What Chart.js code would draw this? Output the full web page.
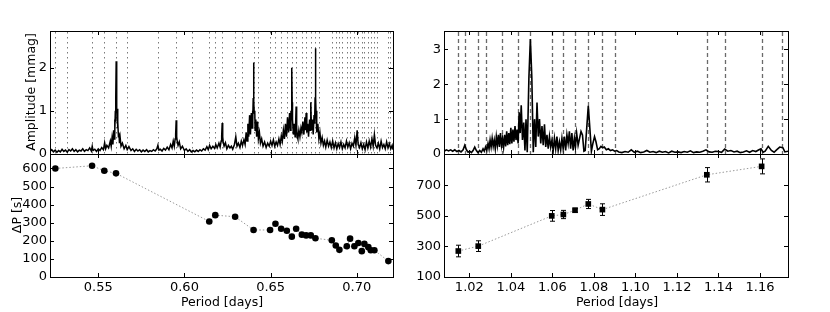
<!DOCTYPE html>
<html lang="en">
<head>
  <meta charset="UTF-8" />
  <title>Period spacings</title>
  <script src="https://cdn.jsdelivr.net/npm/chart.js"></script>
  <style>
    html, body { margin: 0; padding: 0; background: #fff; }
    #wrap { position: relative; width: 830px; height: 312px; overflow: hidden; font-family: "DejaVu Sans", sans-serif; }
    #wrap canvas { position: absolute; left: 0; top: 0; }
    .lbl { position: absolute; font-size: 12.5px; line-height: 1; white-space: nowrap; color: #000; transform: translate(-50%, -50%); }
    .rot { transform: translate(-50%, -50%) rotate(-90deg); }
  </style>
</head>
<body>
<div id="wrap">
  <canvas id="ampLeft" width="830" height="312"></canvas>
  <canvas id="dpLeft" width="830" height="312"></canvas>
  <canvas id="ampRight" width="830" height="312"></canvas>
  <canvas id="dpRight" width="830" height="312"></canvas>
  <div class="lbl rot" style="left:31px;top:92px">Amplitude [mmag]</div>
  <div class="lbl rot" style="left:17px;top:215px">ΔP [s]</div>
  <div class="lbl" style="left:222px;top:302px">Period [days]</div>
  <div class="lbl" style="left:617px;top:302px">Period [days]</div>
</div>
<script>
  // tick values
  const xTicksLeft = [0.55, 0.60, 0.65, 0.70];
  const xTicksRight = [1.02, 1.04, 1.06, 1.08, 1.10, 1.12, 1.14, 1.16];
  const yTicksAmpLeft = [0, 1, 2];
  const yTicksAmpRight = [0, 1, 2, 3];
  const yTicksDpLeft = [0, 100, 200, 300, 400, 500, 600];
  const yTicksDpRight = [100, 300, 500, 700];

  // mode periods (vertical lines)
  const modesLeft = [0.5251, 0.5319, 0.5464, 0.5535, 0.5603, 0.5667, 0.5846, 0.5952, 0.6045, 0.6144, 0.6179, 0.6219,
    0.6294, 0.6333, 0.6401, 0.6428, 0.6497, 0.6528, 0.6561, 0.6594, 0.6623, 0.6648, 0.6681, 0.6706, 0.6733, 0.6760,
    0.6783, 0.6855, 0.6878, 0.6899, 0.6916, 0.6942, 0.6961, 0.6986, 0.7009, 0.7029, 0.7044, 0.7067, 0.7081, 0.7102,
    0.7119, 0.7183, 0.7193];
  const modesRight = [1.0147, 1.0179, 1.0243, 1.0278, 1.0358, 1.0435, 1.0494, 1.0597, 1.0653, 1.0709, 1.0773, 1.0841,
    1.0904, 1.1344, 1.1433, 1.1608, 1.1704];

  // period spacings
  const dpLeftPeriod = [0.5251, 0.5464, 0.5535, 0.5603, 0.6144, 0.6179, 0.6294, 0.6401, 0.6497, 0.6528, 0.6561, 0.6594,
    0.6623, 0.6648, 0.6681, 0.6706, 0.6733, 0.6760, 0.6855, 0.6878, 0.6899, 0.6942, 0.6961, 0.6986, 0.7009, 0.7029,
    0.7044, 0.7067, 0.7081, 0.7102, 0.7183];
  const dpLeftValue = [600, 615, 587, 573, 307, 342, 333, 260, 260, 294, 267, 256, 223, 267, 234, 230, 230, 214, 203, 174,
    150, 170, 212, 170, 188, 143, 183, 165, 148, 148, 88];
  const dpLeftErr = [8, 8, 8, 8, 10, 10, 10, 8, 10, 10, 10, 10, 10, 10, 10, 10, 10, 10, 12, 14, 14, 16, 14, 14, 14, 14,
    14, 12, 12, 12, 12];

  const dpRightPeriod = [1.0147, 1.0243, 1.0597, 1.0653, 1.0709, 1.0773, 1.0841, 1.1344, 1.1608];
  const dpRightValue = [270, 302, 500, 509, 537, 578, 541, 769, 824];
  const dpRightErr = [38, 35, 35, 27, 13, 30, 38, 47, 49];

  // amplitude spectra [period, amplitude]
  const specLeft = [
    [0.5220,0.06],[0.5230,0.10],[0.5240,0.05],[0.5250,0.09],[0.5260,0.04],[0.5270,0.08],[0.5280,0.05],[0.5290,0.11],
    [0.5300,0.06],[0.5310,0.09],[0.5320,0.04],[0.5330,0.10],[0.5340,0.07],[0.5350,0.12],[0.5360,0.06],[0.5370,0.10],
    [0.5380,0.05],[0.5390,0.09],[0.5400,0.07],[0.5410,0.12],[0.5420,0.06],[0.5430,0.10],[0.5440,0.08],[0.5450,0.14],
    [0.5460,0.07],[0.5465,0.18],[0.5470,0.08],[0.5480,0.11],[0.5490,0.06],[0.5500,0.12],[0.5510,0.08],[0.5520,0.15],
    [0.5530,0.10],[0.5537,0.26],[0.5543,0.12],[0.5550,0.20],[0.5560,0.14],[0.5570,0.30],[0.5575,0.18],[0.5580,0.38],
    [0.5585,0.22],[0.5589,0.55],[0.5592,0.35],[0.5595,0.80],[0.5597,0.55],[0.5599,1.00],[0.5601,0.75],[0.5602,1.30],
    [0.5604,2.15],[0.5606,1.20],[0.5608,0.95],[0.5610,1.05],[0.5612,0.60],[0.5614,0.75],[0.5617,0.40],[0.5620,0.50],
    [0.5623,0.25],[0.5627,0.38],[0.5632,0.18],[0.5640,0.25],[0.5650,0.12],[0.5660,0.20],
    [0.5668,0.10],[0.5678,0.17],[0.5690,0.08],[0.5700,0.12],[0.5710,0.06],[0.5720,0.11],[0.5730,0.07],[0.5740,0.10],
    [0.5750,0.05],[0.5760,0.09],[0.5770,0.06],[0.5780,0.10],[0.5790,0.05],[0.5800,0.08],[0.5810,0.06],[0.5820,0.10],
    [0.5830,0.07],[0.5840,0.12],[0.5846,0.20],[0.5852,0.09],[0.5860,0.11],[0.5870,0.07],[0.5880,0.13],[0.5890,0.09],
    [0.5900,0.16],[0.5910,0.10],[0.5920,0.22],[0.5928,0.14],[0.5935,0.30],[0.5941,0.18],[0.5946,0.35],[0.5949,0.45],
    [0.5952,0.78],[0.5955,0.40],[0.5958,0.30],[0.5963,0.20],[0.5970,0.28],[0.5978,0.12],[0.5988,0.18],[0.6000,0.08],
    [0.6010,0.12],[0.6020,0.06],
    [0.6030,0.10],[0.6040,0.05],[0.6050,0.08],[0.6060,0.05],[0.6070,0.09],[0.6080,0.06],[0.6090,0.10],[0.6100,0.07],
    [0.6110,0.12],[0.6120,0.09],[0.6130,0.17],[0.6138,0.10],[0.6146,0.20],[0.6155,0.12],[0.6165,0.18],[0.6175,0.13],
    [0.6182,0.22],[0.6190,0.14],[0.6200,0.25],[0.6207,0.16],[0.6213,0.30],[0.6216,0.42],[0.6219,0.72],[0.6222,0.40],
    [0.6225,0.28],[0.6230,0.18],
    [0.6238,0.26],[0.6246,0.12],[0.6255,0.20],[0.6264,0.14],[0.6272,0.18],[0.6280,0.11],[0.6290,0.22],[0.6298,0.40],
    [0.6305,0.18],[0.6313,0.25],[0.6322,0.15],[0.6330,0.30],[0.6337,0.20],[0.6345,0.33],[0.6352,0.22],[0.6358,0.50],
    [0.6363,0.30],[0.6368,0.70],[0.6373,0.40],[0.6378,0.90],[0.6383,0.45],[0.6388,0.95],[0.6392,0.60],[0.6395,1.00],
    [0.6397,0.75],[0.6399,1.30],[0.6401,2.12],[0.6403,1.20],[0.6405,0.95],[0.6408,1.00],[0.6410,0.55],[0.6414,0.80],
    [0.6419,0.40],[0.6424,0.75],[0.6429,0.35],[0.6435,0.50],
    [0.6441,0.25],[0.6448,0.35],[0.6456,0.18],[0.6465,0.28],[0.6474,0.15],[0.6483,0.25],[0.6492,0.18],[0.6500,0.30],
    [0.6508,0.20],[0.6516,0.33],[0.6524,0.18],[0.6532,0.28],[0.6540,0.20],[0.6548,0.35],[0.6555,0.22],[0.6562,0.42],
    [0.6568,0.30],[0.6574,0.55],[0.6580,0.35],[0.6586,0.70],[0.6592,0.40],[0.6598,0.85],[0.6604,0.50],[0.6610,0.95],
    [0.6615,0.55],[0.6618,1.00],[0.6620,0.80],[0.6622,1.30],[0.6623,2.00],[0.6625,1.20],[0.6627,0.80],[0.6632,0.45],
    [0.6637,0.70],[0.6642,0.40],[0.6645,0.70],[0.6648,1.10],
    [0.6651,0.60],[0.6655,0.40],[0.6658,0.35],[0.6664,0.55],[0.6670,0.40],[0.6676,0.60],[0.6681,0.50],[0.6687,0.75],
    [0.6693,0.45],[0.6699,0.85],[0.6703,0.55],[0.6706,0.95],[0.6710,0.50],[0.6715,0.70],[0.6720,0.40],[0.6726,0.80],
    [0.6730,0.55],[0.6733,1.20],[0.6737,0.55],[0.6742,0.80],[0.6747,0.45],[0.6752,0.90],[0.6755,0.70],[0.6758,1.30],
    [0.6760,2.45],[0.6762,1.30],[0.6764,0.90],[0.6766,1.00],
    [0.6769,0.50],[0.6774,0.70],[0.6780,0.35],[0.6786,0.50],[0.6792,0.25],[0.6799,0.38],[0.6806,0.20],[0.6813,0.30],
    [0.6820,0.16],[0.6828,0.32],[0.6836,0.18],[0.6844,0.28],[0.6852,0.15],[0.6860,0.30],[0.6868,0.14],[0.6876,0.26],
    [0.6884,0.12],[0.6892,0.24],[0.6900,0.15],[0.6908,0.28],[0.6916,0.12],[0.6924,0.22],[0.6932,0.14],[0.6940,0.30],
    [0.6948,0.16],[0.6956,0.26],[0.6964,0.12],[0.6972,0.25],[0.6980,0.18],[0.6988,0.38],[0.6995,0.20],[0.7002,0.55],
    [0.7008,0.22],[0.7016,0.15],[0.7024,0.26],[0.7032,0.12],[0.7040,0.22],[0.7048,0.10],[0.7056,0.28],[0.7064,0.14],
    [0.7072,0.30],[0.7080,0.16],[0.7088,0.35],[0.7095,0.18],[0.7102,0.45],[0.7109,0.20],[0.7117,0.14],[0.7125,0.25],
    [0.7133,0.12],[0.7141,0.30],[0.7149,0.15],[0.7157,0.22],[0.7165,0.12],[0.7173,0.28],[0.7181,0.14],[0.7189,0.24],
    [0.7197,0.12],[0.7205,0.20],[0.7210,0.10]
  ];
  const specRight = [
    [1.0078,0.08],[1.0090,0.12],[1.0100,0.09],[1.0110,0.12],[1.0120,0.08],[1.0130,0.12],[1.0140,0.07],[1.0150,0.10],
    [1.0160,0.06],[1.0170,0.12],[1.0178,0.25],[1.0186,0.12],[1.0194,0.05],[1.0202,0.08],[1.0210,0.04],[1.0218,0.10],
    [1.0226,0.20],[1.0234,0.10],[1.0242,0.04],[1.0250,0.10],[1.0258,0.05],[1.0266,0.15],[1.0272,0.08],[1.0278,0.20],
    [1.0284,0.10],[1.0290,0.30],[1.0295,0.15],[1.0300,0.40],[1.0305,0.20],[1.0310,0.45],[1.0315,0.22],[1.0320,0.40],
    [1.0325,0.15],[1.0330,0.50],[1.0335,0.25],[1.0340,0.55],[1.0345,0.20],[1.0350,0.60],[1.0355,0.25],[1.0360,0.45],
    [1.0365,0.20],[1.0370,0.55],[1.0375,0.22],[1.0380,0.65],[1.0385,0.25],[1.0390,0.60],[1.0395,0.28],[1.0400,0.75],
    [1.0405,0.30],[1.0410,0.70],[1.0415,0.35],[1.0420,0.80],[1.0425,0.40],[1.0430,0.70],[1.0435,0.30],[1.0440,1.20],
    [1.0445,0.60],[1.0450,1.40],[1.0456,0.40],[1.0462,0.90],[1.0468,0.10],[1.0473,1.00],[1.0479,0.05],[1.0487,2.20],
    [1.0494,3.30],[1.0501,2.20],[1.0508,0.05],[1.0514,1.00],[1.0520,0.20],[1.0526,1.48],[1.0532,0.50],[1.0538,1.00],
    [1.0544,0.30],[1.0550,0.80],[1.0556,0.25],[1.0562,0.85],[1.0568,0.20],[1.0574,0.55],[1.0580,0.15],[1.0586,0.50],
    [1.0592,0.20],[1.0598,0.40],[1.0604,0.10],[1.0610,0.45],[1.0616,0.15],[1.0622,0.50],[1.0628,0.10],[1.0634,0.35],
    [1.0640,0.12],[1.0646,0.45],[1.0652,0.15],[1.0658,0.50],[1.0664,0.10],[1.0670,0.55],[1.0676,0.30],[1.0682,0.65],
    [1.0688,0.15],[1.0694,0.60],[1.0700,0.10],[1.0706,0.45],[1.0711,0.20],[1.0717,0.60],[1.0724,0.25],[1.0731,0.45],
    [1.0738,0.65],[1.0745,0.55],[1.0752,0.08],[1.0758,0.10],[1.0765,0.70],[1.0773,1.38],[1.0781,0.70],[1.0788,0.08],
    [1.0795,0.30],[1.0803,0.50],[1.0810,0.35],[1.0818,0.12],[1.0826,0.15],[1.0834,0.22],[1.0842,0.18],[1.0850,0.20],
    [1.0860,0.12],[1.0870,0.15],[1.0880,0.10],[1.0890,0.12],[1.0900,0.08],[1.0910,0.10],[1.0920,0.06],[1.0935,0.04],
    [1.0950,0.07],[1.0965,0.05],[1.0980,0.12],[1.0995,0.05],[1.1010,0.08],[1.1025,0.04],[1.1040,0.06],[1.1055,0.10],
    [1.1070,0.05],[1.1085,0.07],[1.1100,0.04],[1.1115,0.08],[1.1130,0.05],[1.1145,0.07],[1.1160,0.03],[1.1175,0.08],
    [1.1190,0.05],[1.1205,0.06],[1.1220,0.04],[1.1235,0.07],[1.1250,0.05],[1.1265,0.09],[1.1280,0.04],[1.1295,0.06],
    [1.1310,0.05],[1.1325,0.08],[1.1340,0.12],[1.1355,0.06],[1.1370,0.05],[1.1385,0.08],[1.1400,0.07],[1.1415,0.05],
    [1.1430,0.14],[1.1445,0.08],[1.1460,0.10],[1.1475,0.06],[1.1490,0.08],[1.1505,0.04],[1.1520,0.06],[1.1535,0.09],
    [1.1550,0.05],[1.1565,0.10],[1.1580,0.07],[1.1595,0.12],[1.1605,0.15],[1.1615,0.05],[1.1625,0.08],[1.1640,0.22],
    [1.1655,0.10],[1.1668,0.05],[1.1680,0.12],[1.1695,0.20],[1.1710,0.18],[1.1720,0.06],[1.1735,0.08]
  ];

  Chart.defaults.font.family = '"DejaVu Sans", sans-serif';
  Chart.defaults.color = '#000';

  // frame with inward ticks on all four sides
  const frameTicks = {
    id: 'frameTicks',
    afterDraw(chart) {
      const { ctx, chartArea: a, scales } = chart;
      ctx.save();
      ctx.strokeStyle = '#000';
      ctx.lineWidth = 1;
      ctx.beginPath();
      scales.x.ticks.forEach(t => {
        const px = Math.round(scales.x.getPixelForValue(t.value)) + 0.5;
        ctx.moveTo(px, a.bottom); ctx.lineTo(px, a.bottom - 4);
        ctx.moveTo(px, a.top); ctx.lineTo(px, a.top + 4);
      });
      scales.y.ticks.forEach(t => {
        const py = Math.round(scales.y.getPixelForValue(t.value)) + 0.5;
        ctx.moveTo(a.left, py); ctx.lineTo(a.left + 4, py);
        ctx.moveTo(a.right, py); ctx.lineTo(a.right - 4, py);
      });
      ctx.stroke();
      ctx.strokeRect(a.left + 0.5, a.top + 0.5, a.right - a.left, a.bottom - a.top);
      ctx.restore();
    }
  };

  // vertical lines at the mode periods
  const modeLines = {
    id: 'modeLines',
    beforeDatasetsDraw(chart, args, opts) {
      if (!opts.periods) return;
      const { ctx, chartArea: a, scales: { x } } = chart;
      ctx.save();
      ctx.strokeStyle = opts.color;
      ctx.lineWidth = opts.width;
      ctx.setLineDash(opts.dash);
      ctx.beginPath();
      opts.periods.forEach(p => {
        const px = Math.round(x.getPixelForValue(p)) + 0.5;
        ctx.moveTo(px, a.top + 1);
        ctx.lineTo(px, a.bottom);
      });
      ctx.stroke();
      ctx.restore();
    }
  };

  // error bars for the period spacings
  const errorBars = {
    id: 'errorBars',
    afterDatasetsDraw(chart, args, opts) {
      if (!opts.errors) return;
      const { ctx, scales: { x, y } } = chart;
      const pts = chart.data.datasets[0].data;
      ctx.save();
      ctx.strokeStyle = '#000';
      ctx.lineWidth = 1;
      ctx.beginPath();
      pts.forEach((pt, i) => {
        const e = opts.errors[i];
        const px = Math.round(x.getPixelForValue(pt.x)) + 0.5;
        const y1 = y.getPixelForValue(pt.y - e);
        const y2 = y.getPixelForValue(pt.y + e);
        ctx.moveTo(px, y1); ctx.lineTo(px, y2);
        if (opts.cap) {
          ctx.moveTo(px - opts.cap, y1); ctx.lineTo(px + opts.cap, y1);
          ctx.moveTo(px - opts.cap, y2); ctx.lineTo(px + opts.cap, y2);
        }
      });
      ctx.stroke();
      ctx.restore();
    }
  };

  function axisX(min, max, ticks, showLabels, height) {
    return {
      type: 'linear', min, max,
      grid: { display: false, drawTicks: false },
      border: { display: false },
      ticks: {
        display: showLabels, padding: 3, autoSkip: false, maxRotation: 0,
        font: { size: 13 }, color: '#000',
        callback: v => v.toFixed(2)
      },
      afterBuildTicks: s => { s.ticks = ticks.map(v => ({ value: v })); },
      afterFit: s => { s.height = height; }
    };
  }

  function axisY(min, max, ticks) {
    return {
      min, max,
      grid: { display: false, drawTicks: false },
      border: { display: false },
      ticks: { padding: 3, font: { size: 13 }, color: '#000', callback: v => String(v) },
      afterBuildTicks: s => { s.ticks = ticks.map(v => ({ value: v })); },
      afterFit: s => { s.width = 50; }
    };
  }

  function baseOptions(padding, scales, extra) {
    return {
      responsive: false, animation: false, devicePixelRatio: 1,
      layout: { padding },
      plugins: Object.assign({ legend: { display: false }, tooltip: { enabled: false } }, extra),
      scales
    };
  }

  function spectrumChart(id, spec, padLeft, padRight, xMin, xMax, xTicks, yMax, yTicks, lines, width) {
    new Chart(document.getElementById(id), {
      type: 'line',
      data: {
        datasets: [{
          data: spec.map(([p, a]) => ({ x: p, y: a })),
          borderColor: '#000', borderWidth: width, pointRadius: 0, tension: 0
        }]
      },
      options: baseOptions(
        { left: padLeft, right: padRight, top: 31, bottom: 158 },
        { x: axisX(xMin, xMax, xTicks, false, 0), y: axisY(0, yMax, yTicks) },
        { modeLines: lines }
      ),
      plugins: [modeLines, frameTicks]
    });
  }

  function spacingChart(id, periods, values, errs, padLeft, padRight, xMin, xMax, xTicks, yMin, yMax, yTicks, marker) {
    new Chart(document.getElementById(id), {
      type: 'line',
      data: {
        datasets: [{
          data: periods.map((p, i) => ({ x: p, y: values[i] })),
          borderColor: '#9a9a9a', borderWidth: 1, borderDash: [1.5, 2],
          pointStyle: marker.style, pointRadius: marker.radius,
          pointBackgroundColor: '#000', pointBorderColor: '#000', pointBorderWidth: 0,
          tension: 0
        }]
      },
      options: baseOptions(
        { left: padLeft, right: padRight, top: 154, bottom: 0 },
        { x: axisX(xMin, xMax, xTicks, true, 35), y: axisY(yMin, yMax, yTicks) },
        { errorBars: { errors: errs, cap: marker.cap } }
      ),
      plugins: [errorBars, frameTicks]
    });
  }

  spectrumChart('ampLeft', specLeft, 0, 437, 0.5220, 0.7210, xTicksLeft, 2.85, yTicksAmpLeft,
    { periods: modesLeft, color: '#7a7a7a', width: 1, dash: [1.5, 3.5] }, 1.5);
  spectrumChart('ampRight', specRight, 394, 42, 1.0078, 1.1735, xTicksRight, 3.53, yTicksAmpRight,
    { periods: modesRight, color: '#6a6a6a', width: 1.3, dash: [4, 3] }, 1.6);

  spacingChart('dpLeft', dpLeftPeriod, dpLeftValue, dpLeftErr, 0, 437, 0.5220, 0.7210, xTicksLeft,
    0, 680, yTicksDpLeft, { style: 'circle', radius: 3.3, cap: 0 });
  spacingChart('dpRight', dpRightPeriod, dpRightValue, dpRightErr, 394, 42, 1.0078, 1.1735, xTicksRight,
    100, 905, yTicksDpRight, { style: 'rect', radius: 4, cap: 2.5 });
</script>
</body>
</html>
